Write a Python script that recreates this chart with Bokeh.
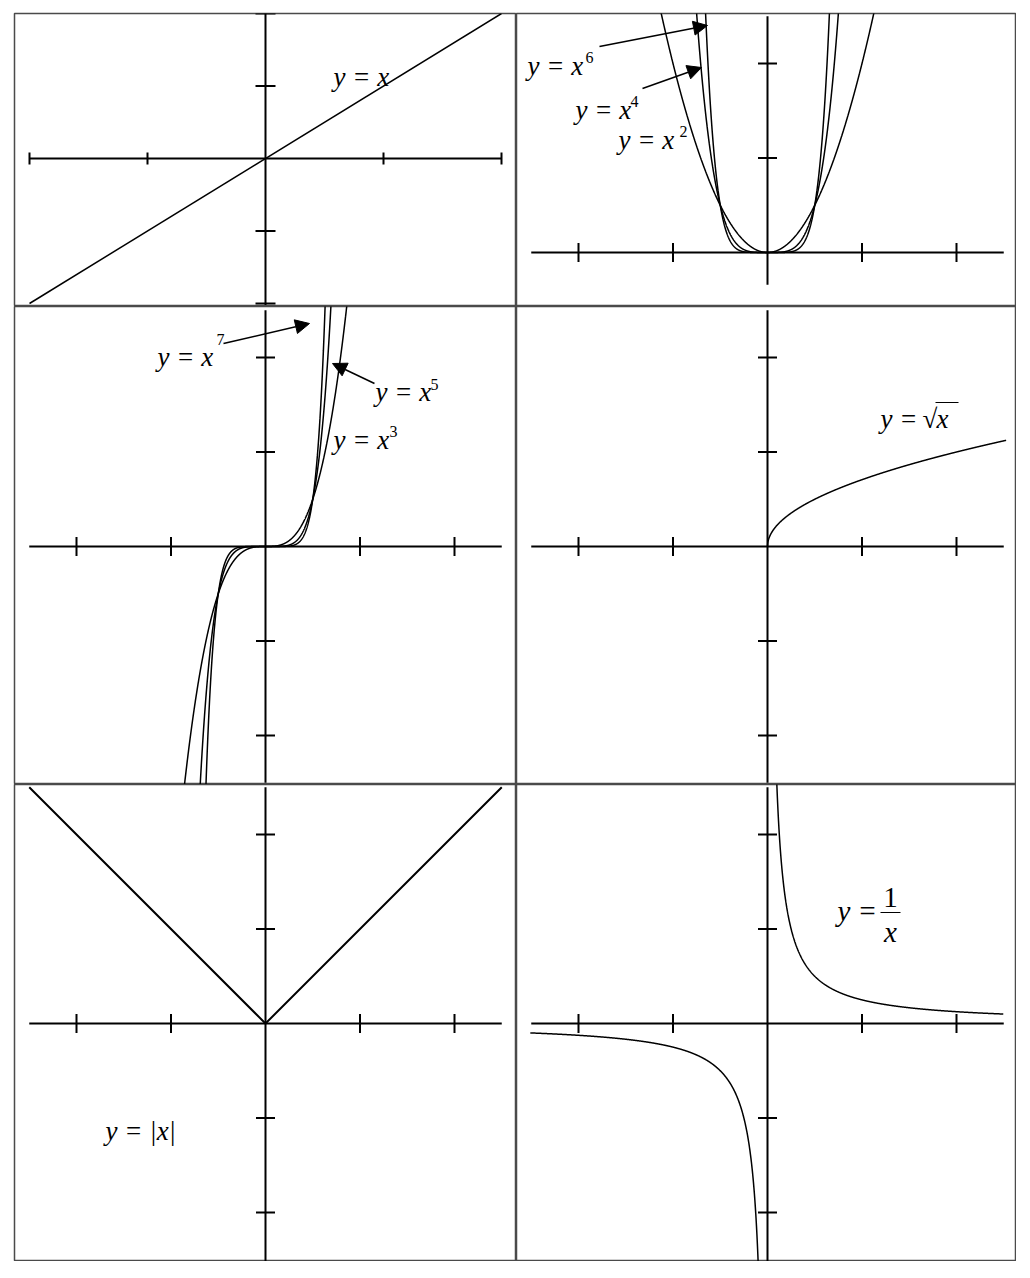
import numpy as np
from bokeh.plotting import figure
from bokeh.layouts import column, row
from bokeh.models import Arrow, NormalHead, Range1d
from bokeh.core.properties import value
from bokeh.embed import file_html
from bokeh.resources import INLINE

# ---------------- data ----------------
line_x = [-2.0, 2.0]                 # y = x
even_powers = [2, 4, 6]              # y = x^2, x^4, x^6
odd_powers = [3, 5, 7]               # y = x^3, x^5, x^7
power_x = np.linspace(-2.5, 2.5, 2001)
sqrt_x = np.linspace(0.0, 5.05, 1001)
abs_x = [-5.0, 0.0, 5.0]
recip_right_x = np.linspace(0.19, 4.99, 1000)
recip_left_x = np.linspace(-5.02, -0.19, 1000)

p1_xticks = [-2, -1, 1, 2]
p1_yticks = [-2, -1, 1, 2]
xticks = [-4, -2, 2, 4]
yticks_top = [2, 4]
yticks = [-4, -2, 2, 4]

FONT = value("Liberation Serif")
U = 47.25
OFF = 8  # page offset


class Panel:
    def __init__(self, frame, origin, ux, uy, ml=0, mt=0):
        L, T, R, B = frame
        self.ox, self.oy, self.ux, self.uy = origin[0], origin[1], ux, uy
        self.p = figure(width=(R - L) + ml, height=(B - T) + mt,
                        x_range=Range1d((L - self.ox) / ux, (R - self.ox) / ux),
                        y_range=Range1d((self.oy - B) / uy, (self.oy - T) / uy),
                        x_axis_type=None, y_axis_type=None,
                        toolbar_location=None, output_backend="svg",
                        min_border=0, min_border_left=ml, min_border_top=mt,
                        min_border_right=0, min_border_bottom=0,
                        outline_line_color="#4a4a4a", outline_line_width=1.5,
                        background_fill_color="white", border_fill_color="white")
        self.p.grid.visible = False

    def d(self, X, Y):
        return (X - self.ox) / self.ux, (self.oy - Y) / self.uy

    def axes(self, xa, ya, xt, yt, xtl_px, ytl_px):
        p = self.p
        p.segment(x0=[xa[0]], y0=[0], x1=[xa[1]], y1=[0], line_color="black", line_width=2)
        p.segment(x0=[0], y0=[ya[0]], x1=[0], y1=[ya[1]], line_color="black", line_width=2)
        h = xtl_px / self.uy
        p.segment(x0=xt, y0=[-h] * len(xt), x1=xt, y1=[h] * len(xt), line_color="black", line_width=2)
        w = ytl_px / self.ux
        p.segment(x0=[-w] * len(yt), y0=yt, x1=[w] * len(yt), y1=yt, line_color="black", line_width=2)

    def text(self, X, Y, txt, size=27, style="italic", align="left"):
        x, y = self.d(X, Y - 0.37 * size)
        self.p.text(x=[x], y=[y], text=[txt], text_font=FONT, text_font_size=f"{size}px",
                    text_font_style=style, text_align=align, text_baseline="alphabetic",
                    text_color="black")

    def arrow(self, X0, Y0, X1, Y1):
        x0, y0 = self.d(X0, Y0)
        x1, y1 = self.d(X1, Y1)
        self.p.add_layout(Arrow(end=NormalHead(size=14, fill_color="black", line_color="black"),
                                x_start=x0, y_start=y0, x_end=x1, y_end=y1,
                                line_color="black", line_width=1.5))

    def seg(self, X0, Y0, X1, Y1, lw=1.2):
        x0, y0 = self.d(X0, Y0)
        x1, y1 = self.d(X1, Y1)
        self.p.segment(x0=[x0], y0=[y0], x1=[x1], y1=[y1], line_color="black", line_width=lw)


CURVE = dict(line_color="black", line_width=1.5)

# ---- panel 1: y = x ----
P1 = Panel((14, 13, 516, 306), (265, 158), 118.0, 72.5, ml=6 + OFF, mt=5 + OFF)
P1.axes((-2, 2), (-2.02, 2.0), p1_xticks, p1_yticks, 6, 10)
P1.p.line(line_x, line_x, **CURVE)
P1.text(333, 86, "y = x")

# ---- panel 2: even powers ----
P2 = Panel((516, 13, 1016, 306), (767, 252), U, U, mt=5 + OFF)
P2.axes((-5, 5), (-0.68, 5.0), xticks, yticks_top, 9.5, 9.5)
for n in even_powers:
    P2.p.line(power_x, power_x ** n, **CURVE)
P2.text(527, 75, "y = x")
P2.text(585, 63, "6", size=16, style="normal")
P2.text(575, 119, "y = x")
P2.text(630, 107, "4", size=16, style="normal")
P2.text(618, 149, "y = x")
P2.text(679, 137, "2", size=16, style="normal")
P2.arrow(599, 46, 707, 25)
P2.arrow(642, 88, 701, 67)

# ---- panel 3: odd powers ----
P3 = Panel((14, 306, 516, 784), (265, 546), U, U, ml=6 + OFF)
P3.axes((-5, 5), (-5, 5), xticks, yticks, 9.5, 9.5)
for n in odd_powers:
    P3.p.line(power_x, power_x ** n, **CURVE)
P3.text(157, 366, "y = x")
P3.text(216, 345, "7", size=16, style="normal")
P3.arrow(223, 343, 309, 323)
P3.text(375, 401, "y = x")
P3.text(430, 390, "5", size=16, style="normal")
P3.arrow(374, 383, 332, 363)
P3.text(333, 449, "y = x")
P3.text(389, 437, "3", size=16, style="normal")

# ---- panel 4: square root ----
P4 = Panel((516, 306, 1016, 784), (767, 546), U, U)
P4.axes((-5, 5), (-5, 5), xticks, yticks, 9.5, 9.5)
P4.p.line(sqrt_x, np.sqrt(sqrt_x), **CURVE)
P4.text(880, 428, "y =")
P4.text(922, 428, "\u221a", style="normal")
P4.text(936, 428, "x")
P4.seg(935, 402, 958, 402, lw=1.2)

# ---- panel 5: absolute value ----
P5 = Panel((14, 784, 516, 1261), (265, 1023), U, U, ml=6 + OFF)
P5.axes((-5, 5), (-5.04, 5), xticks, yticks, 9.5, 9.5)
P5.p.line(abs_x, np.abs(abs_x), line_color="black", line_width=2)
P5.text(105, 1140, "y = |x|")

# ---- panel 6: reciprocal ----
P6 = Panel((516, 784, 1016, 1261), (767, 1023), U, U)
P6.axes((-5, 5), (-5.04, 5), xticks, yticks, 9.5, 9.5)
P6.p.line(recip_right_x, 1.0 / recip_right_x, **CURVE)
P6.p.line(recip_left_x, 1.0 / recip_left_x, **CURVE)
P6.text(837, 921, "y =", size=29)
P6.text(890, 908, "1", size=29, style="normal", align="center")
P6.seg(880, 912, 900, 912, lw=1.2)
P6.text(890, 942, "x", size=29, align="center")

layout = column(row(P1.p, P2.p), row(P3.p, P4.p), row(P5.p, P6.p))

open("out.html", "w").write(file_html(layout, INLINE))
